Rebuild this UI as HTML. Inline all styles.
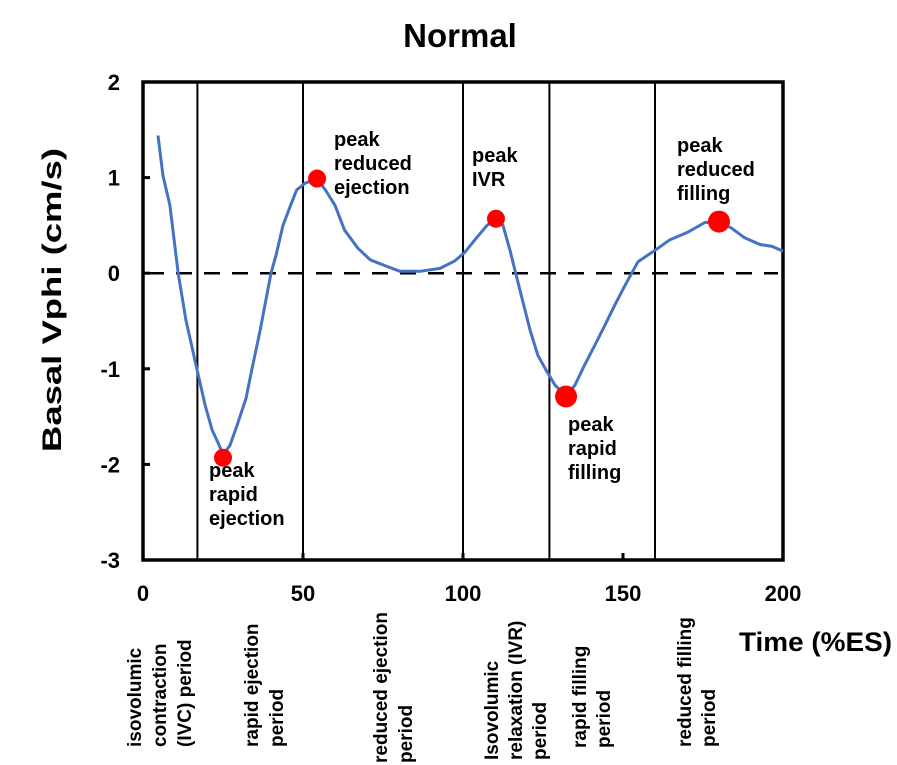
<!DOCTYPE html>
<html><head><meta charset="utf-8"><style>
html,body{margin:0;padding:0;background:#fff;}
svg{display:block;font-family:"Liberation Sans",Arial,sans-serif;font-weight:bold;}
</style></head><body>
<svg id="chart" width="897" height="765" viewBox="0 0 897 765">
<text x="460" y="47" font-size="33" text-anchor="middle">Normal</text>
<text transform="translate(61,300) rotate(-90)" font-size="27" text-anchor="middle" textLength="304" lengthAdjust="spacingAndGlyphs">Basal Vphi  (cm/s)</text>
<text x="739" y="651" font-size="27" textLength="153" lengthAdjust="spacingAndGlyphs">Time (%ES)</text>
<g id="dividers"></g>
<line id="zero" stroke="#000" stroke-width="2.5" stroke-dasharray="16,12"></line>
<rect id="frame" fill="none" stroke="#000" stroke-width="3.5"></rect>
<g id="ticks"></g>
<path id="curve" fill="none" stroke="#4472C4" stroke-width="3" stroke-linejoin="round"></path>
<g id="markers"></g>
<g font-size="20">
<text x="209" y="477"><tspan x="209">peak</tspan><tspan x="209" dy="24">rapid</tspan><tspan x="209" dy="24">ejection</tspan></text>
<text x="334" y="146"><tspan x="334">peak</tspan><tspan x="334" dy="24">reduced</tspan><tspan x="334" dy="24">ejection</tspan></text>
<text x="472" y="162"><tspan x="472">peak</tspan><tspan x="472" dy="24">IVR</tspan></text>
<text x="568" y="431"><tspan x="568">peak</tspan><tspan x="568" dy="24">rapid</tspan><tspan x="568" dy="24">filling</tspan></text>
<text x="677" y="152"><tspan x="677">peak</tspan><tspan x="677" dy="24">reduced</tspan><tspan x="677" dy="24">filling</tspan></text>
</g>
<g font-size="19">
<text transform="translate(141,747) rotate(-90)"><tspan x="0">isovolumic</tspan><tspan x="0" dy="25">contraction</tspan><tspan x="0" dy="25">(IVC) period</tspan></text>
<text transform="translate(258,747) rotate(-90)"><tspan x="0">rapid ejection</tspan><tspan x="0" dy="25">period</tspan></text>
<text transform="translate(387,763) rotate(-90)"><tspan x="0">reduced ejection</tspan><tspan x="0" dy="25">period</tspan></text>
<text transform="translate(498,760) rotate(-90)"><tspan x="0">Isovolumic</tspan><tspan x="0" dy="24">relaxation (IVR)</tspan><tspan x="0" dy="24">period</tspan></text>
<text transform="translate(586,748) rotate(-90)"><tspan x="0">rapid filling</tspan><tspan x="0" dy="24">period</tspan></text>
<text transform="translate(691,747) rotate(-90)"><tspan x="0">reduced filling</tspan><tspan x="0" dy="24">period</tspan></text>
</g>
</svg>
<script>
const xs = [4.7,6.25,8.4,11,13.4,16.9,19.4,21.6,23.8,25,27.2,29.4,32.2,34,36.6,38.4,40,41.6,43.75,45.9,48,50.6,54.4,57,60,63,67.2,71,75.6,80.3,86.6,92.8,97.5,100.6,103.75,107.5,110.3,112.5,114.7,117.8,119.4,121,123.4,125.9,128.75,132.2,135,138,141.25,144.4,147.5,150.6,154.7,160,164.7,170.3,175.6,180,184,188,192.8,196.6,200];
const vphi = [1.44,1.02,0.71,0,-0.49,-1.01,-1.38,-1.64,-1.80,-1.9,-1.80,-1.59,-1.31,-1.01,-0.6,-0.28,0,0.19,0.5,0.69,0.87,0.94,0.99,0.87,0.71,0.45,0.26,0.14,0.08,0.02,0.02,0.05,0.13,0.22,0.35,0.5,0.57,0.5,0.24,-0.18,-0.39,-0.6,-0.86,-1.01,-1.17,-1.29,-1.17,-0.96,-0.75,-0.54,-0.33,-0.13,0.12,0.24,0.35,0.43,0.53,0.54,0.47,0.37,0.30,0.28,0.23];
const peakX = [25,54.4,110.3,132.2,180];
const peakY = [-1.93,0.99,0.57,-1.29,0.54];
const peakR = [9,9,9,11,11];
const dividerX = [17,50,100,127,160];
const xTicks = [0,50,100,150,200];
const yTicks = [2,1,0,-1,-2,-3];
const X0=143,X1=783,Y0=82,Y1=560;
const sx = v => X0 + (v-0)/(200-0)*(X1-X0);
const sy = v => Y0 + (2-v)/(2-(-3))*(Y1-Y0);
const NS="http://www.w3.org/2000/svg";
function mk(tag, attrs, parent){const e=document.createElementNS(NS,tag);for(const k in attrs)e.setAttribute(k,attrs[k]);parent.appendChild(e);return e;}
const fr=document.getElementById('frame');
fr.setAttribute('x',X0);fr.setAttribute('y',Y0);fr.setAttribute('width',X1-X0);fr.setAttribute('height',Y1-Y0);
const z=document.getElementById('zero');
z.setAttribute('x1',X0+5);z.setAttribute('x2',X1-5);z.setAttribute('y1',sy(0));z.setAttribute('y2',sy(0));
const dg=document.getElementById('dividers');
dividerX.forEach(v=>{
  const l=mk('line',{x1:sx(v),x2:sx(v),y1:Y0,y2:Y1,stroke:'#000','stroke-width':2},dg);
  
  
});
const tg=document.getElementById('ticks');
xTicks.forEach(v=>{
  const t=mk('line',{x1:sx(v),x2:sx(v),y1:Y1,y2:Y1-7,stroke:'#000','stroke-width':3},tg);
  
  
  const tx=mk('text',{x:sx(v),y:Y1+41,'font-size':22,'text-anchor':'middle'},tg);
  tx.textContent=v;
  
  
});
yTicks.forEach(v=>{
  const t=mk('line',{x1:X0,x2:X0+7,y1:sy(v),y2:sy(v),stroke:'#000','stroke-width':3},tg);
  
  
  const tx=mk('text',{x:120,y:sy(v)+8,'font-size':22,'text-anchor':'end'},tg);
  tx.textContent=v;
  
  
});
document.getElementById('curve').setAttribute('d', xs.map((v,i)=>(i?'L':'M')+sx(v).toFixed(1)+','+sy(vphi[i]).toFixed(1)).join(' '));
const mg=document.getElementById('markers');
peakX.forEach((v,i)=>{
  const c=mk('circle',{cx:sx(v),cy:sy(peakY[i]),r:peakR[i],fill:'#FF0000'},mg);
  
  
});
</script>
</body></html>
